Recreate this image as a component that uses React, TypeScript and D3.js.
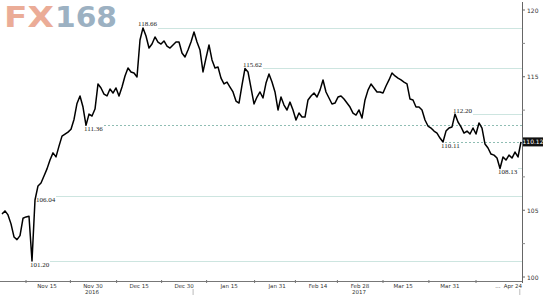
import React from "react";
import * as d3 from "d3";

const W = 543;
const H = 295;

// USD/JPY closes, roughly one sample per calendar day from ~Oct 31 2016 to Apr 24 2017
const values: number[] = [
  104.72, 104.95, 104.65, 103.98, 103.0, 102.8, 103.1, 104.4, 104.5, 104.55,
  101.2, 105.77, 106.82, 107.04, 107.57, 108.1, 108.77, 109.3, 109.0, 109.8,
  110.55, 110.7, 110.85, 111.07, 111.8, 113.0, 113.56, 112.73, 111.36, 112.2,
  112.06, 112.58, 114.46, 114.16, 113.7, 113.56, 114.08, 113.78, 114.16, 113.56,
  114.23, 115.06, 115.66, 115.36, 115.28, 114.98, 117.75, 118.66, 118.05, 117.15,
  117.45, 117.98, 117.6, 117.45, 117.68, 117.3, 117.15, 117.38, 117.6, 117.6,
  116.78, 116.48, 117.0, 117.6, 118.35, 117.6, 117.0, 115.36, 116.4, 117.38,
  116.26, 115.66, 115.73, 114.9, 114.46, 114.6, 114.23, 113.86, 113.18, 113.03,
  114.38, 115.62, 115.36, 114.16, 112.96, 113.48, 113.86, 113.41, 114.53, 115.2,
  114.6, 113.86, 112.51, 113.48, 112.88, 112.51, 113.1, 112.51, 111.76, 112.28,
  111.98, 111.98, 113.26, 113.56, 113.78, 113.48, 114.0, 114.76, 113.86, 113.41,
  112.96, 113.03, 113.48, 113.56, 113.33, 113.03, 112.73, 112.28, 112.13, 112.51,
  111.91, 113.26, 114.0, 114.46, 114.16, 113.86, 113.86, 113.78, 114.31, 114.76,
  115.28, 115.06, 114.9, 114.76, 114.6, 114.46, 113.33, 113.26, 112.73, 112.73,
  112.51, 111.76, 111.31, 111.16, 110.93, 110.78, 110.41, 110.11, 110.93, 111.16,
  111.24, 112.2, 111.61, 111.24, 110.78, 110.93, 110.71, 111.16, 110.71, 111.54,
  111.16, 109.96, 109.66, 109.21, 109.13, 108.91, 108.13, 108.99, 108.76, 109.13,
  108.91, 109.36, 108.99, 110.12,
];

// Reference levels: value, label index (where the level was set), dashed or solid
const levelValues: number[] = [118.66, 115.62, 112.2, 111.36, 110.11, 108.13, 106.04, 101.2];
const levelIndex: number[] = [46, 81, 151, 28, 147, 166, 12, 10];
const levelDashed: boolean[] = [false, false, false, true, true, false, false, false];
const levelAbove: boolean[] = [true, true, true, false, false, false, false, false];

const yTickValues: number[] = [120, 115, 105, 100];
const yMinorTicks: number[] = [117.5, 112.5, 107.5, 102.5];

const xTickLabels: string[] = ["Nov 15", "Nov 30", "Dec 15", "Dec 30", "Jan 15", "Jan 31", "Feb 14", "Feb 28", "Mar 15", "Mar 31", "...", "Apr 24"];
const xTickIndex: number[] = [15, 30.3, 45.7, 60.7, 75.7, 91.7, 105.3, 119.3, 133.7, 149.3, 165.3, 170.3];
const xTickMarks: number[] = [8, 22.8, 38.2, 53.2, 68.2, 84.2, 97.8, 111.8, 127, 142.3, 158];
const yearLabels: string[] = ["2016", "2017"];
const yearIndex: number[] = [30, 119];
const yearBreaks: number[] = [63.7, 172.6];

const lastValue = 110.12;

export default function App() {
  const x = d3.scaleLinear().domain([0, values.length - 1]).range([2, 521]);
  const y = d3.scaleLinear().domain([100, 120]).range([277, 10]);
  const axisX = 522;
  const axisY = 281;

  const line = d3
    .line<number>()
    .x((_, i) => x(i))
    .y((d) => y(d));

  const labelFont = "'Liberation Serif', 'DejaVu Serif', serif";
  const sansFont = "'DejaVu Sans', sans-serif";

  return (
    <svg
      width={W}
      height={H}
      style={{ position: "absolute", left: 0, top: 0, background: "#fff" }}
    >
      {/* logo */}
      <text x={4} y={27} fontFamily={sansFont} fontWeight="bold" fontSize={28} fill="#e9a48c" textLength={50} lengthAdjust="spacingAndGlyphs" opacity={0.9}>
        FX
      </text>
      <text x={55} y={27} fontFamily={sansFont} fontWeight="bold" fontSize={28} fill="#92a9bc" textLength={62} lengthAdjust="spacingAndGlyphs" opacity={0.9}>
        168
      </text>

      {/* reference levels */}
      {levelValues.map((v, k) => {
        const x0 = x(levelIndex[k]);
        const yy = Math.round(y(v)) + 0.5;
        const start = levelDashed[k] && !levelAbove[k] && v < 111 ? x0 + 2 : x0 + 18;
        return (
          <line
            key={"lv" + k}
            x1={start}
            x2={axisX}
            y1={yy}
            y2={yy}
            stroke={levelDashed[k] ? "#8fbdb3" : "#cde5e0"}
            strokeWidth={1}
            strokeDasharray={levelDashed[k] ? "2,2" : undefined}
          />
        );
      })}
      {levelValues.map((v, k) => {
        const x0 = x(levelIndex[k]);
        const yy = y(v) + (levelAbove[k] ? -1.5 : 6);
        return (
          <text
            key={"lt" + k}
            x={x0 - 2}
            y={yy}
            fontFamily={labelFont}
            fontSize={7}
            fill="#222"
          >
            {v.toFixed(2)}
          </text>
        );
      })}

      {/* price line */}
      <path d={line(values) || ""} fill="none" stroke="#000" strokeWidth={1.5} strokeLinejoin="round" />

      {/* y axis */}
      <line x1={axisX + 0.5} x2={axisX + 0.5} y1={2} y2={283} stroke="#666" strokeWidth={1} />
      {yTickValues.map((v) => (
        <g key={"yt" + v}>
          <line x1={axisX} x2={axisX + 3} y1={y(v)} y2={y(v)} stroke="#666" />
          <text x={axisX + 5} y={y(v) + 2.5} fontFamily={sansFont} fontSize={6} fill="#333">
            {v}
          </text>
        </g>
      ))}
      {yMinorTicks.map((v) => (
        <line key={"ym" + v} x1={axisX} x2={axisX + 3} y1={y(v)} y2={y(v)} stroke="#888" />
      ))}

      {/* x axis */}
      <line x1={0} x2={axisX} y1={axisY + 0.5} y2={axisY + 0.5} stroke="#777" strokeWidth={1} />
      {xTickMarks.map((t, k) => (
        <line key={"xm" + k} x1={x(t)} x2={x(t)} y1={axisY - 1} y2={axisY + 2} stroke="#777" />
      ))}
      {yearBreaks.map((t, k) => (
        <line key={"yb" + k} x1={x(t)} x2={x(t)} y1={axisY + 8} y2={H} stroke="#bbb" />
      ))}
      {xTickLabels.map((lab, k) => (
        <text
          key={"xl" + k}
          x={x(xTickIndex[k])}
          y={axisY + 7}
          textAnchor="middle"
          fontFamily={sansFont}
          fontSize={5.5}
          fill="#333"
        >
          {lab}
        </text>
      ))}
      {yearLabels.map((lab, k) => (
        <text
          key={"yr" + k}
          x={x(yearIndex[k])}
          y={axisY + 13}
          textAnchor="middle"
          fontFamily={sansFont}
          fontSize={5.5}
          fill="#333"
        >
          {lab}
        </text>
      ))}

      {/* last price box */}
      <rect x={axisX + 1} y={y(lastValue) - 4.5} width={20} height={9} fill="#111" />
      <text x={axisX + 11} y={y(lastValue) + 2.2} textAnchor="middle" fontFamily={sansFont} fontSize={6} fill="#fff">
        {lastValue.toFixed(2)}
      </text>
    </svg>
  );
}
